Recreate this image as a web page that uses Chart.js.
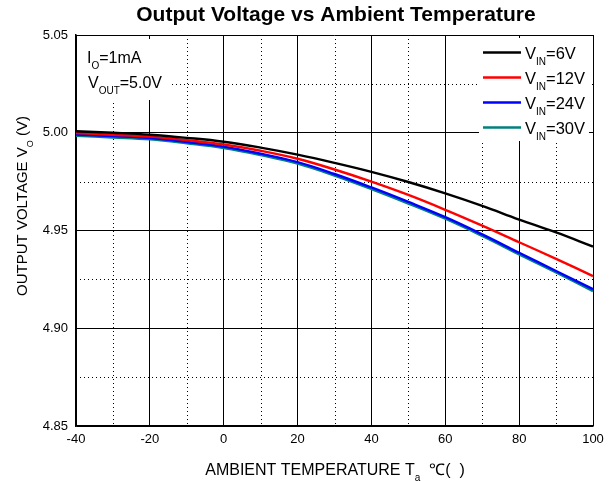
<!DOCTYPE html>
<html>
<head>
<meta charset="utf-8">
<script src="https://cdn.jsdelivr.net/npm/chart.js@4.4.1/dist/chart.umd.min.js"></script>
<style>
  html, body { margin: 0; padding: 0; background: #fff; }
</style>
</head>
<body>
<canvas id="chart" width="614" height="481"></canvas>
<script>
// temperatures (°C) and output voltage per input voltage
const temps = [-40, -30, -20, -10, 0, 10, 20, 30, 40, 50, 60, 70, 80, 90, 100];
const vin6  = [5.0008, 5.0000, 4.9990, 4.9974, 4.9954, 4.9924, 4.9888, 4.9846, 4.9800, 4.9748, 4.9690, 4.9626, 4.9556, 4.9490, 4.9418];
const vin12 = [4.9998, 4.9990, 4.9980, 4.9962, 4.9940, 4.9908, 4.9867, 4.9812, 4.9750, 4.9682, 4.9606, 4.9525, 4.9440, 4.9355, 4.9267];
const vin24 = [4.9991, 4.9983, 4.9973, 4.9953, 4.9929, 4.9893, 4.9850, 4.9789, 4.9720, 4.9646, 4.9568, 4.9480, 4.9386, 4.9293, 4.9200];
const vin30 = [4.9985, 4.9976, 4.9966, 4.9946, 4.9922, 4.9886, 4.9842, 4.9781, 4.9712, 4.9638, 4.9560, 4.9472, 4.9378, 4.9285, 4.9190];
const seriesNames = ["6V", "12V", "24V", "30V"];
const seriesColors = ["#000000", "#ff0000", "#0000ff", "#008080"];
const minorX = [-30, -10, 10, 30, 50, 70, 90];
const minorY = [4.875, 4.925, 4.975, 5.025];

const FONT = "'Liberation Sans', Arial, sans-serif";

// draw text made of [text, isSub] parts
function richText(ctx, parts, x, y, size, align) {
    let subSize = Math.round(size * 0.62);
    let w = 0;
    parts.forEach(p => {
        ctx.font = (p[1] ? subSize : size) + "px " + FONT;
        w += ctx.measureText(p[0]).width;
    });
    let cx = align === "center" ? x - w / 2 : x;
    ctx.textAlign = "left";
    ctx.textBaseline = "alphabetic";
    parts.forEach(p => {
        ctx.font = (p[1] ? subSize : size) + "px " + FONT;
        ctx.fillText(p[0], cx, p[1] ? y + size * 0.4 : y);
        cx += ctx.measureText(p[0]).width;
    });
}

const extras = {
    id: "extras",
    beforeDatasetsDraw(chart) {
        const ctx = chart.ctx;
        const a = chart.chartArea;
        const xs = chart.scales.x, ys = chart.scales.y;
        ctx.save();
        ctx.strokeStyle = "#000";
        ctx.lineWidth = 1;
        ctx.setLineDash([1, 3]);
        minorX.forEach(v => {
            let px = Math.round(xs.getPixelForValue(v)) + 0.5;
            ctx.beginPath(); ctx.moveTo(px, a.top); ctx.lineTo(px, a.bottom); ctx.stroke();
        });
        minorY.forEach(v => {
            let py = Math.round(ys.getPixelForValue(v)) + 0.5;
            ctx.beginPath(); ctx.moveTo(a.left, py); ctx.lineTo(a.right, py); ctx.stroke();
        });
        ctx.setLineDash([]);
        // white boxes behind annotation and legend
        ctx.fillStyle = "#fff";
        ctx.fillRect(a.left + 2, 39, 94, 61);
        ctx.fillRect(479, 38, 110, 103);
        ctx.restore();
    },
    afterDatasetsDraw(chart) {
        const ctx = chart.ctx;
        ctx.save();
        ctx.fillStyle = "#000";
        // annotation
        richText(ctx, [["I", false], ["O", true], ["=1mA", false]], 87, 63, 16, "left");
        richText(ctx, [["V", false], ["OUT", true], ["=5.0V", false]], 88, 88, 16, "left");
        // legend
        chart.data.datasets.forEach((ds, i) => {
            let y = 52.5 + 25 * i;
            ctx.strokeStyle = ds.borderColor;
            ctx.lineWidth = 2.5;
            ctx.beginPath(); ctx.moveTo(483, y); ctx.lineTo(521, y); ctx.stroke();
            ctx.fillStyle = "#000";
            richText(ctx, [["V", false], ["IN", true], ["=" + seriesNames[i], false]], 525, y + 6, 16.5, "left");
        });
        // title
        ctx.font = "bold 21px " + FONT;
        ctx.textAlign = "center";
        ctx.textBaseline = "alphabetic";
        ctx.fillText("Output Voltage vs Ambient Temperature", 336, 21);
        // x axis title
        richText(ctx, [["AMBIENT TEMPERATURE T", false], ["a", true], ["  \u2103(  )", false]], 335, 475, 16, "center");
        // y axis title
        ctx.translate(27, 206);
        ctx.rotate(-Math.PI / 2);
        richText(ctx, [["OUTPUT VOLTAGE V", false], ["O", true], [" (V)", false]], 0, 0, 15, "center");
        ctx.restore();
    }
};

new Chart(document.getElementById("chart"), {
    type: "line",
    data: {
        datasets: [vin6, vin12, vin24, vin30].map((vals, i) => ({
            label: "VIN=" + seriesNames[i],
            data: temps.map((t, j) => ({ x: t, y: vals[j] })),
            borderColor: seriesColors[i],
            borderWidth: 2.4,
            pointRadius: 0,
            tension: 0.4,
            fill: false
        }))
    },
    options: {
        responsive: false,
        animation: false,
        devicePixelRatio: 1,
        layout: { padding: { top: 35, right: 21, left: 0, bottom: 0 } },
        plugins: {
            legend: { display: false },
            title: { display: false },
            tooltip: { enabled: false }
        },
        scales: {
            x: {
                type: "linear",
                min: -40, max: 100,
                afterFit: s => { s.height = 55; },
                ticks: { stepSize: 20, padding: 6, color: "#000", font: { family: FONT, size: 13 }, maxRotation: 0 },
                grid: { color: "#000", lineWidth: 1, drawTicks: false },
                border: { color: "#000", width: 1.5 }
            },
            y: {
                min: 4.85, max: 5.05,
                afterFit: s => { s.width = 76; },
                ticks: { stepSize: 0.05, padding: 8, color: "#000", font: { family: FONT, size: 13 },
                         callback: v => v.toFixed(2) },
                grid: { color: "#000", lineWidth: 1, drawTicks: false },
                border: { color: "#000", width: 1.5 }
            }
        }
    },
    plugins: [extras]
});
</script>
</body>
</html>
